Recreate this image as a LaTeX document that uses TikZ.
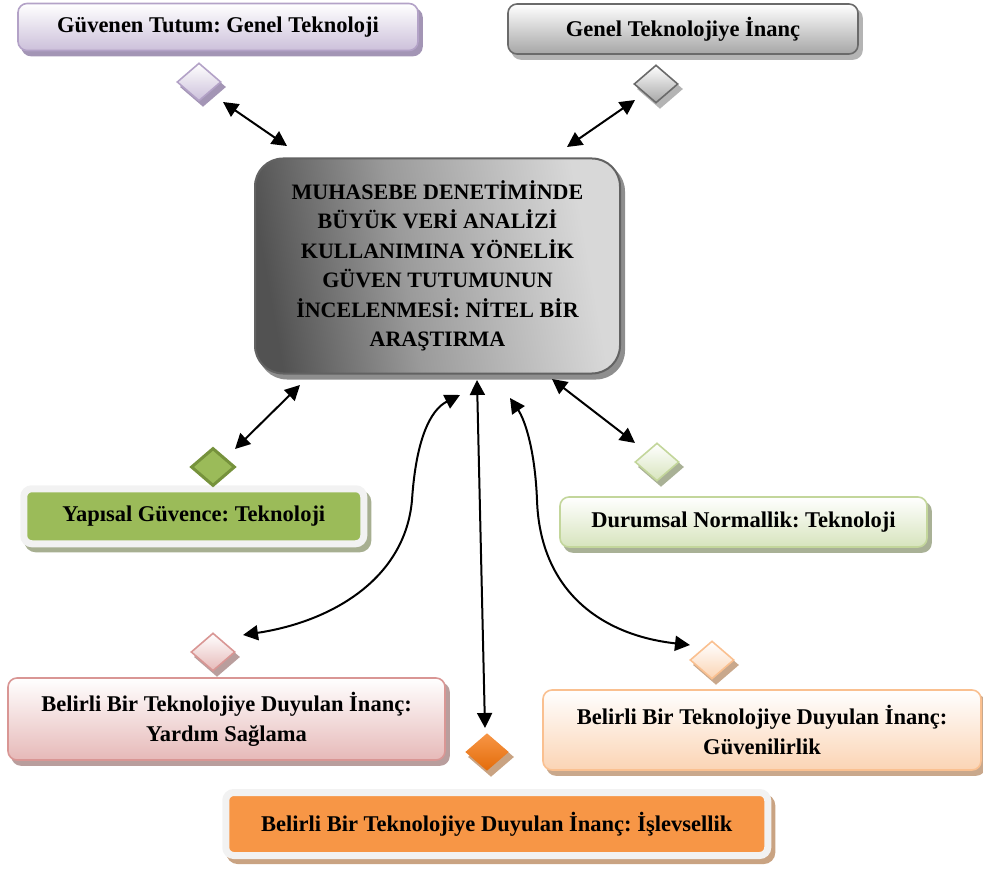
\documentclass[tikz,border=0pt]{standalone}
\usepackage{fontspec}
\setmainfont{Liberation Serif}
\usetikzlibrary{shapes.geometric,arrows.meta}

% palette
\definecolor{lavfill}{HTML}{CCC0DA}
\definecolor{lavline}{HTML}{B3A2C7}
\definecolor{lavshad}{HTML}{A395B5}
\definecolor{grayfill}{HTML}{A6A6A6}
\definecolor{grayline}{HTML}{6A6A6A}
\definecolor{grayshad}{HTML}{B4B4B4}
\definecolor{hubdark}{HTML}{525252}
\definecolor{hubmid}{HTML}{9A9A9A}
\definecolor{hublight}{HTML}{D8D8D8}
\definecolor{hubline}{HTML}{626262}
\definecolor{hubshad}{HTML}{8E8E8E}
\definecolor{olive}{HTML}{9BBB59}
\definecolor{oliveline}{HTML}{76923C}
\definecolor{oliveshad}{HTML}{A7AF91}
\definecolor{mintfill}{HTML}{D7E4BD}
\definecolor{mintline}{HTML}{C3D69B}
\definecolor{mintshad}{HTML}{A9B196}
\definecolor{rosefill}{HTML}{E6B9B8}
\definecolor{roseline}{HTML}{D99694}
\definecolor{roseshad}{HTML}{B99E9D}
\definecolor{peachfill}{HTML}{FBD4B4}
\definecolor{peachline}{HTML}{FAC090}
\definecolor{peachshad}{HTML}{C9A88C}
\definecolor{orange}{HTML}{F79646}
\definecolor{orangedeep}{HTML}{E46C0A}
\definecolor{orangeshad}{HTML}{C9A382}
\definecolor{frame}{HTML}{F2F2F2}

\pgfdeclarehorizontalshading{hubshade}{100bp}{color(0bp)=(hubdark); color(25bp)=(hubdark); color(45bp)=(hubmid); color(72bp)=(hublight); color(100bp)=(hublight)}

\tikzset{
  x=1pt, y=-1pt,
  txt/.style={font=\fontsize{22.5}{30}\selectfont\bfseries\frenchspacing, text=black, align=center},
  shadowed/.style={preaction={fill=#1, draw=#1, transform canvas={xshift=4pt,yshift=-5pt}}},
  card/.style 2 args={rectangle, rounded corners=9pt, inner sep=0pt, txt,
    top color=white, bottom color=#1, draw=#2, line width=1.6pt},
  framed/.style={rectangle, rounded corners=8pt, inner sep=0pt, txt,
    fill=#1, draw=frame, line width=7pt},
  gem/.style={diamond, inner sep=0pt, minimum width=44pt, minimum height=38pt, line width=1.6pt},
  link/.style={line width=2pt, {Triangle[length=15pt,width=15pt]}-{Triangle[length=15pt,width=15pt]}},
}

\begin{document}
\begin{tikzpicture}
\useasboundingbox (0,0) rectangle (983,869);

% central topic
\node[rectangle, rounded corners=28pt, inner sep=0pt, txt, font=\fontsize{22}{29.5}\selectfont\bfseries\frenchspacing,
      shading=hubshade, shading angle=10,
      draw=hubline, line width=2pt, shadowed=hubshad,
      minimum width=365pt, minimum height=215pt] (main) at (437.5,266)
  {MUHASEBE DENETİMİNDE\\BÜYÜK VERİ ANALİZİ\\KULLANIMINA YÖNELİK\\GÜVEN TUTUMUNUN\\İNCELENMESİ: NİTEL BİR\\ARAŞTIRMA};

% surrounding topics
\node[card={lavfill}{lavline}, shadowed=lavshad, minimum width=400pt, minimum height=47pt]
  (b1) at (218,27) {Güvenen Tutum: Genel Teknoloji};
\node[card={grayfill}{grayline}, shadowed=grayshad, minimum width=350pt, minimum height=50pt]
  (b2) at (683,29) {Genel Teknolojiye İnanç};
\node[framed=olive, shadowed=oliveshad, minimum width=340pt, minimum height=55pt]
  (b3) at (193.75,516.25) {Yapısal Güvence: Teknoloji};
\node[card={mintfill}{mintline}, shadowed=mintshad, minimum width=367pt, minimum height=50pt]
  (b4) at (743.5,522) {Durumsal Normallik: Teknoloji};
\node[card={rosefill}{roseline}, shadowed=roseshad, minimum width=437pt, minimum height=82pt]
  (b5) at (226.5,719) {Belirli Bir Teknolojiye Duyulan İnanç:\\Yardım Sağlama};
\node[card={peachfill}{peachline}, shadowed=peachshad, minimum width=438pt, minimum height=80pt]
  (b6) at (762,730) {Belirli Bir Teknolojiye Duyulan İnanç:\\Güvenilirlik};
\node[framed=orange, shadowed=orangeshad, minimum width=542pt, minimum height=63pt]
  (b7) at (496.75,824) {Belirli Bir Teknolojiye Duyulan İnanç: İşlevsellik};

% diamond markers
\node[gem, top color=white, bottom color=lavfill, draw=lavline, shadowed=lavshad] (d1) at (199,82) {};
\node[gem, top color=white, bottom color=grayfill, draw=grayline, shadowed=grayshad] (d2) at (656,84) {};
\node[gem, fill=olive, draw=oliveline, line width=3pt] (d3) at (213,467) {};
\node[gem, top color=white, bottom color=mintfill, draw=mintline, shadowed=mintshad] (d4) at (657,462) {};
\node[gem, top color=white, bottom color=rosefill, draw=roseline, shadowed=roseshad] (d5) at (213,652) {};
\node[gem, top color=white, bottom color=peachfill, draw=peachline, shadowed=peachshad] (d6) at (712,660) {};
\node[gem, top color=orange, bottom color=orangedeep, shadowed=orangeshad] (d7) at (487,752) {};

% connectors
\draw[link] ([shift={(24,20)}]d1.center) -- ([shift={(-150.5,-120)}]main.center);
\draw[link] ([shift={(-21,16)}]d2.center) -- ([shift={(129.5,-119)}]main.center);
\draw[link] ([shift={(-137.5,119)}]main.center) -- ([shift={(22,-18)}]d3.center);
\draw[link] ([shift={(114.5,113)}]main.center) -- ([shift={(-22,-19)}]d4.center);
\draw[link] ([shift={(22.5,129)}]main.center)
  .. controls (430,410) and (416,440) .. (412,500)
  .. controls (405,580) and (330,622) .. ([shift={(30,-17)}]d5.center);
\draw[link] ([shift={(72.5,132)}]main.center)
  .. controls (525,420) and (535,450) .. (537,500)
  .. controls (540,590) and (600,635) .. ([shift={(-22,-15)}]d6.center);
\draw[link] ([shift={(39.5,114)}]main.center) -- ([shift={(-2,-24)}]d7.center);
\end{tikzpicture}
\end{document}
